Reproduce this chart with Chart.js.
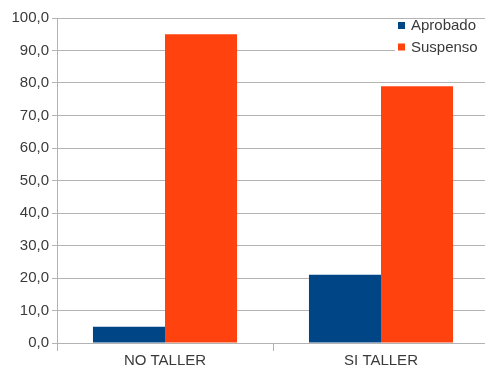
<!DOCTYPE html>
<html>
<head>
<meta charset="utf-8">
<script src="https://cdn.jsdelivr.net/npm/chart.js@4"></script>
<style>
  html, body { margin: 0; padding: 0; background: #fff; overflow: hidden; }
  #wrap { position: relative; width: 489px; height: 369px; }
</style>
</head>
<body>
<div id="wrap"><canvas id="myChart"></canvas></div>
<script>
const categories = ['NO TALLER', 'SI TALLER'];
const aprobado = [5, 21];
const suspenso = [95, 79];
const yTicks = [0, 10, 20, 30, 40, 50, 60, 70, 80, 90, 100];

const gridColor = '#b3b3b3';
const textColor = '#3a3a3a';
const fontFamily = '"Liberation Sans", Arial, sans-serif';

// legend drawn inside the plot, top right, like the original spreadsheet chart
const insideLegend = {
    id: 'insideLegend',
    afterDraw(chart) {
        const ctx = chart.ctx;
        ctx.save();
        ctx.fillStyle = '#ffffff';
        ctx.fillRect(395, 20, 90, 38);
        ctx.font = '15px ' + fontFamily;
        ctx.textBaseline = 'middle';
        chart.data.datasets.forEach((ds, i) => {
            const y = 25.5 + i * 21.5;
            ctx.fillStyle = ds.backgroundColor;
            ctx.fillRect(398, y - 3.5, 7, 7);
            ctx.fillStyle = textColor;
            ctx.fillText(ds.label, 411, y + 0.5);
        });
        ctx.restore();
    }
};

const ctx = document.getElementById('myChart').getContext('2d');
const myChart = new Chart(ctx, {
    type: 'bar',
    data: {
        labels: categories,
        datasets: [
            {
                label: 'Aprobado',
                data: aprobado,
                backgroundColor: '#004586',
                barPercentage: 1,
                categoryPercentage: 0.667
            },
            {
                label: 'Suspenso',
                data: suspenso,
                backgroundColor: '#ff420e',
                barPercentage: 1,
                categoryPercentage: 0.667
            }
        ]
    },
    options: {
        responsive: true,
        maintainAspectRatio: false,
        animation: false,
        layout: { padding: { top: 18, left: 0, right: 0, bottom: 0 } },
        plugins: {
            legend: { display: false },
            tooltip: { enabled: false }
        },
        scales: {
            x: {
                grid: {
                    offset: true,
                    drawOnChartArea: false,
                    color: gridColor,
                    tickLength: 8
                },
                border: { color: gridColor, width: 1 },
                ticks: {
                    color: textColor,
                    font: { family: fontFamily, size: 15 },
                    padding: 1
                },
                afterFit(scale) { scale.height = 26; }
            },
            y: {
                min: 0,
                max: 100,
                afterBuildTicks(scale) {
                    scale.ticks = yTicks.map(v => ({ value: v }));
                },
                grid: {
                    color: gridColor,
                    tickLength: 5
                },
                border: { color: gridColor, width: 1 },
                ticks: {
                    color: textColor,
                    font: { family: fontFamily, size: 15 },
                    padding: 3,
                    callback: v => v.toFixed(1).replace('.', ',')
                },
                afterFit(scale) { scale.width = 57; }
            }
        }
    },
    plugins: [insideLegend]
});
</script>
</body>
</html>
